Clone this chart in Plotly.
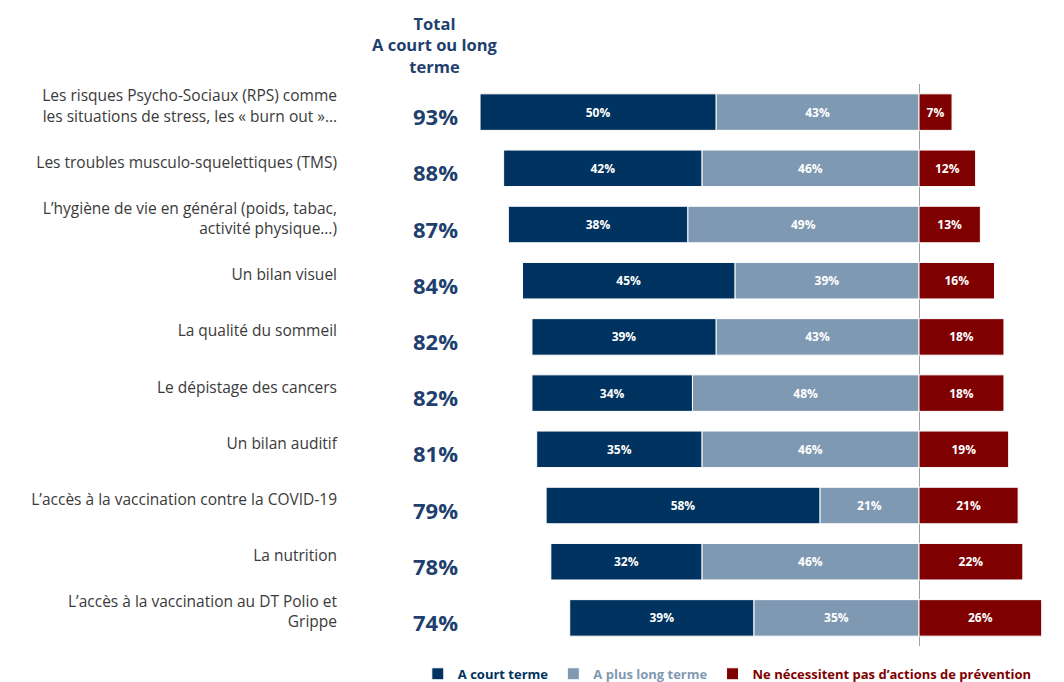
import plotly.graph_objects as go

categories = [
    "Les risques Psycho-Sociaux (RPS) comme<br>les situations de stress, les « burn out »…",
    "Les troubles musculo-squelettiques (TMS)",
    "L’hygiène de vie en général (poids, tabac,<br>activité physique…)",
    "Un bilan visuel",
    "La qualité du sommeil",
    "Le dépistage des cancers",
    "Un bilan auditif",
    "L’accès à la vaccination contre la COVID-19",
    "La nutrition",
    "L’accès à la vaccination au DT Polio et<br>Grippe",
]
court_terme = [50, 42, 38, 45, 39, 34, 35, 58, 32, 39]
long_terme = [43, 46, 49, 39, 43, 48, 46, 21, 46, 35]
pas_actions = [7, 12, 13, 16, 18, 18, 19, 21, 22, 26]
totals = [c + l for c, l in zip(court_terme, long_terme)]

NAVY = "#00335F"
GREYBLUE = "#7F99B2"
RED = "#7F0000"
TOTAL_COL = "#1F3F6E"

ypos = list(range(len(categories)))
bar_font = dict(color="white", size=12, family="Open Sans", weight="bold")

fig = go.Figure()
fig.add_trace(go.Bar(
    y=ypos, x=[-v for v in long_terme], orientation="h",
    name=f"<span style='color:{GREYBLUE}'><b>A plus long terme</b></span>", legendrank=2,
    marker=dict(color=GREYBLUE, line=dict(color="white", width=1)),
    text=[f"{v}%" for v in long_terme], textposition="inside",
    insidetextanchor="middle", textfont=bar_font, hoverinfo="skip",
))
fig.add_trace(go.Bar(
    y=ypos, x=[-v for v in court_terme], orientation="h",
    name=f"<span style='color:{NAVY}'><b>A court terme</b></span>", legendrank=1,
    marker=dict(color=NAVY, line=dict(color="white", width=1)),
    text=[f"{v}%" for v in court_terme], textposition="inside",
    insidetextanchor="middle", textfont=bar_font, hoverinfo="skip",
))
fig.add_trace(go.Bar(
    y=ypos, x=pas_actions, orientation="h",
    name=f"<span style='color:{RED}'><b>Ne nécessitent pas d’actions de prévention</b></span>",
    legendrank=3,
    marker=dict(color=RED, line=dict(color="white", width=1)),
    text=[f"{v}%" for v in pas_actions], textposition="inside",
    insidetextanchor="middle", textfont=bar_font, hoverinfo="skip",
))

TOTAL_X = -102.5
for i, t in enumerate(totals):
    fig.add_annotation(x=TOTAL_X, y=i, xref="x", yref="y", text=f"<b>{t}%</b>",
                       showarrow=False, yshift=-4,
                       font=dict(size=22, color=TOTAL_COL, family="Open Sans"))

fig.add_annotation(x=TOTAL_X, y=-0.5, xref="x", yref="y", yanchor="bottom",
                   text="<b>Total<br>A court ou long<br>terme</b>", showarrow=False,
                   yshift=4, font=dict(size=16.5, color=TOTAL_COL, family="Open Sans"))

L = 346
fig.update_layout(
    width=1064, height=682,
    margin=dict(l=L, r=0, t=84, b=36, autoexpand=False),
    barmode="relative", bargap=0.35,
    plot_bgcolor="white", paper_bgcolor="white",
    font=dict(family="Open Sans", size=13, color="#3a3a3a"),
    showlegend=True,
    legend=dict(orientation="h", x=0.1, xanchor="left", yref="container",
                y=0.012, yanchor="middle",
                font=dict(size=13), traceorder="normal", itemwidth=30),
    xaxis=dict(range=[-(919 - L) / 4.72, (1064 - 919) / 4.72], showticklabels=False,
               showgrid=False, zeroline=True, zerolinecolor="#a0a0a0", zerolinewidth=1,
               fixedrange=True),
    yaxis=dict(tickmode="array", tickvals=ypos, ticktext=categories,
               range=[len(categories) - 0.5, -0.5], showgrid=False, zeroline=False,
               ticks="", ticklabelstandoff=8, ticklabelshift=6,
               tickfont=dict(size=15.5, color="#3a3a3a")),
)
fig.write_html("out.html")
